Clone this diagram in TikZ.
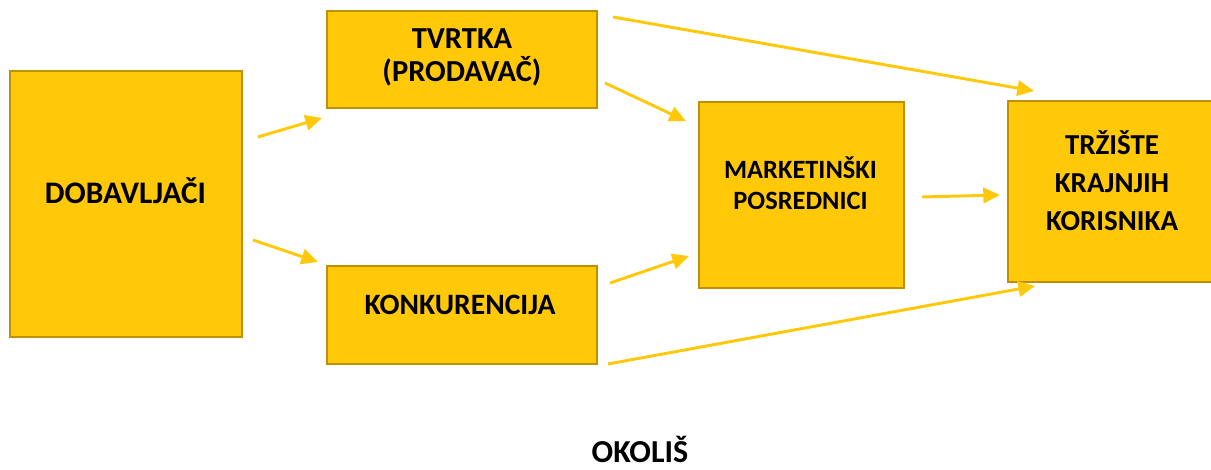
\documentclass[tikz,border=0pt]{standalone}
\usepackage{fontspec}
\setmainfont{Carlito}
\usetikzlibrary{arrows.meta}
\definecolor{boxfill}{HTML}{FFC909}
\definecolor{boxline}{HTML}{BF9000}
\definecolor{arrowcol}{HTML}{FFC90A}
\begin{document}
\begin{tikzpicture}[x=0.75pt,y=-0.75pt,
  box/.style={draw=boxline,fill=boxfill,line width=1.5pt,inner sep=0pt,outer sep=0pt},
  lbl/.style={align=center,inner sep=0pt,text=black},
  conn/.style={draw=arrowcol,line width=2.2pt,-{Triangle[length=12.5pt,width=11.5pt]}}]
\useasboundingbox (0,0) rectangle (1211,470);
\begin{scope}
\clip (0,0) rectangle (1211,470);
\node[box,minimum width=174pt,minimum height=200pt] (dob) at (126,204) {};
\node[box,minimum width=202.5pt,minimum height=73pt] (tvr) at (462,59.5) {};
\node[box,minimum width=202.5pt,minimum height=74pt] (kon) at (462,315) {};
\node[box,minimum width=154pt,minimum height=140pt] (mar) at (801.5,195) {};
\node[box,minimum width=160pt,minimum height=136pt] (trz) at (1114.5,191.5) {};
\end{scope}
\node[lbl,font=\bfseries\fontsize{23.5}{28}\selectfont] (tdob) at (125.5,191) {DOBAVLJAČI};
\node[lbl,font=\bfseries\fontsize{22.9}{24.75}\selectfont] (ttvr) at (462,57) {TVRTKA\\(PRODAVAČ)};
\node[lbl,font=\bfseries\fontsize{22.2}{28}\selectfont] (tkon) at (460,305) {KONKURENCIJA};
\node[lbl,font=\bfseries\fontsize{19.8}{23.25}\selectfont] (tmar) at (800.5,183) {MARKETINŠKI\\POSREDNICI};
\node[lbl,font=\bfseries\fontsize{21.7}{28.5}\selectfont] (ttrz) at (1112,181) {TRŽIŠTE\\KRAJNJIH\\KORISNIKA};
\node[lbl,font=\bfseries\fontsize{24}{28}\selectfont] (tok) at (640,449) {OKOLIŠ};
% connector end points
\coordinate (a1) at (258,137); \coordinate (b1) at (322,118);
\coordinate (a2) at (253,240); \coordinate (b2) at (318,262);
\coordinate (a3) at (605,83);  \coordinate (b3) at (686,121);
\coordinate (a4) at (610,283); \coordinate (b4) at (689,256);
\coordinate (a5) at (613,17);  \coordinate (b5) at (1034,91);
\coordinate (a6) at (922,197); \coordinate (b6) at (1000,195);
\coordinate (a7) at (608,364); \coordinate (b7) at (1035,286);
\draw[conn] (a1) -- (b1);
\draw[conn] (a2) -- (b2);
\draw[conn] (a3) -- (b3);
\draw[conn] (a4) -- (b4);
\draw[conn] (a5) -- (b5);
\draw[conn] (a6) -- (b6);
\draw[conn] (a7) -- (b7);
\end{tikzpicture}
\end{document}
